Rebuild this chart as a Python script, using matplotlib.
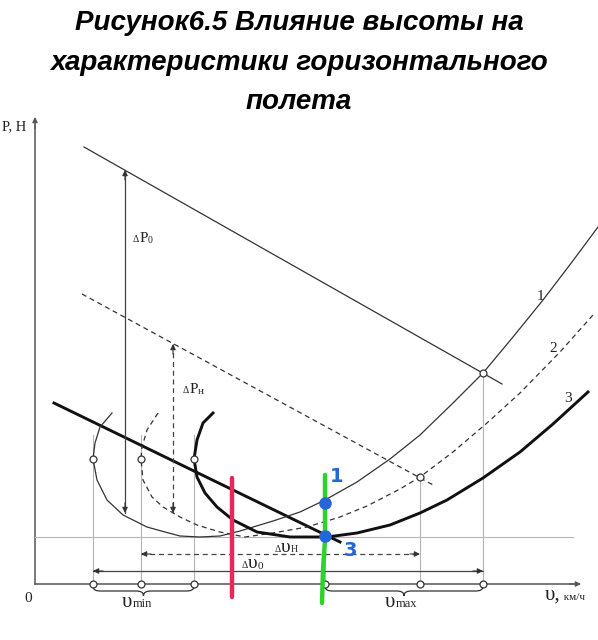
import matplotlib
matplotlib.use("Agg")
import matplotlib.pyplot as plt
from matplotlib.path import Path
from matplotlib.patches import PathPatch
from matplotlib.transforms import offset_copy

SERIF = "Liberation Serif"

# --- curves (v, P in arbitrary schematic units) ---
# 1: required thrust at H = 0 (thin solid)
v1 = [77, 65, 60, 58, 62, 72, 88, 112, 130, 145, 165, 185, 205, 238, 265,
      290, 322, 355, 385, 418, 448, 478, 508, 537, 563]
p1 = [171, 157, 141, 125, 104, 84, 69, 57, 52, 48, 47, 48, 53, 63, 72,
      84, 102, 125, 149, 181, 211, 247, 284, 322, 357]
# 2: required thrust at H (dashed)
v2 = [123, 112, 107, 106, 108, 117, 128, 145, 162, 185, 210, 238, 272, 305,
      332, 365, 385, 418, 452, 485, 525, 558]
p2 = [171, 154, 137, 125, 104, 87, 77, 67, 59, 52, 47, 51, 57, 67,
      78, 95, 107, 132, 161, 191, 232, 269]
# 3: required thrust at higher H (thick)
v3 = [178, 168, 162, 159, 162, 170, 182, 198, 222, 255, 292, 322, 355, 385,
      412, 448, 485, 518, 553]
p3 = [171, 161, 144, 125, 107, 91, 77, 64, 52, 47, 47, 51, 59, 71,
      84, 106, 132, 160, 192]

# available thrust lines (start, end)
line1_v, line1_p = [49, 467], [437, 200]
line2_v, line2_p = [47, 400], [290, 98]
line3_v, line3_p = [19, 305], [181, 42]

p_min = 47
v_min = [58, 106, 159]
p_vmin = 125
v_max = [290, 385, 448]
p_vmax = [48, 107, 211]

dP0_v, dP0_p = 90, [414, 71]
dPH_v, dPH_p = 138, [240, 71]
dvH_p, dvH_v = 30, [106, 385]
dv0_p, dv0_v = 13, [58, 448]

# hand-drawn marks on top of the figure
red_v, red_p = [197, 197], [106, -13]
green_v, green_p = [290, 290, 288, 287], [109, 44, 14, -19]
blue_v, blue_p = [290, 290], [81, 48]

fig = plt.figure(figsize=(5.98, 6.4), dpi=100)
ax = fig.add_axes([0, 0, 1, 1])
ax.set_xlim(-35, 563)
ax.set_ylim(-56, 584)
ax.axis("off")

thin = dict(color="#333333", lw=0.9)
thick = dict(color="#111111", lw=2.1)
guide = dict(color="#b5b5b5", lw=0.8)
dash = (0, (4, 3))


def head(tip, frm, color="#333333"):
    ax.annotate("", xy=tip, xytext=frm,
                arrowprops=dict(arrowstyle="-|>", color=color, lw=0.8,
                                mutation_scale=8, shrinkA=0, shrinkB=0))


def rich(x, y, parts):
    r = fig.canvas.get_renderer()
    dx = 0.0
    for s, size, dy in parts:
        tr = offset_copy(ax.transData, fig=fig, x=dx, y=dy, units="points")
        t = ax.text(x, y, s, fontsize=size, family=SERIF, transform=tr,
                    ha="left", va="baseline", color="#222222")
        dx += t.get_window_extent(r).width * 72 / fig.dpi


def brace(a, b, top=-2, mid_d=-7, tip=-12):
    m = (a + b) / 2
    verts = [(a, top), (a, top - 4), (a + 3, mid_d), (a + 8, mid_d),
             (m - 8, mid_d),
             (m - 3, mid_d), (m, mid_d - 1), (m, tip),
             (m, mid_d - 1), (m + 3, mid_d), (m + 8, mid_d),
             (b - 8, mid_d),
             (b - 3, mid_d), (b, top - 4), (b, top)]
    codes = [Path.MOVETO, Path.CURVE4, Path.CURVE4, Path.CURVE4,
             Path.LINETO,
             Path.CURVE4, Path.CURVE4, Path.CURVE4,
             Path.CURVE4, Path.CURVE4, Path.CURVE4,
             Path.LINETO,
             Path.CURVE4, Path.CURVE4, Path.CURVE4]
    ax.add_patch(PathPatch(Path(verts, codes), fill=False, lw=0.9,
                           edgecolor="#333333"))


# axes
ax.plot([0, 0], [0, 460], color="#555555", lw=1.1)
ax.plot([0, 540], [0, 0], color="#555555", lw=1.1)
head((0, 467), (0, 455), "#555555")
head((546, 0), (534, 0), "#555555")

# guides
ax.plot([0, 538], [p_min, p_min], **guide)
for v in v_min:
    ax.plot([v, v], [0, 149], **guide)
for v, p in zip(v_max, p_vmax):
    ax.plot([v, v], [0, p], **guide)

# thrust lines
ax.plot(line1_v, line1_p, **thin)
ax.plot(line2_v, line2_p, linestyle=dash, **thin)
ax.plot(line3_v, line3_p, **thick)

# curves
ax.plot(v1, p1, **thin)
ax.plot(v2, p2, linestyle=dash, **thin)
ax.plot(v3, p3, **thick)

# delta arrows
ax.plot([dP0_v, dP0_v], dP0_p, color="#444444", lw=0.9)
head((dP0_v, dP0_p[0]), (dP0_v, dP0_p[0] - 10))
head((dP0_v, dP0_p[1]), (dP0_v, dP0_p[1] + 10))
ax.plot([dPH_v, dPH_v], dPH_p, color="#444444", lw=0.9, linestyle=dash)
head((dPH_v, dPH_p[0]), (dPH_v, dPH_p[0] - 10))
head((dPH_v, dPH_p[1]), (dPH_v, dPH_p[1] + 10))
ax.plot(dvH_v, [dvH_p, dvH_p], color="#444444", lw=0.9, linestyle=dash)
head((dvH_v[0], dvH_p), (dvH_v[0] + 10, dvH_p))
head((dvH_v[1], dvH_p), (dvH_v[1] - 10, dvH_p))
ax.plot(dv0_v, [dv0_p, dv0_p], color="#444444", lw=0.9)
head((dv0_v[0], dv0_p), (dv0_v[0] + 10, dv0_p))
head((dv0_v[1], dv0_p), (dv0_v[1] - 10, dv0_p))

# markers
mk = dict(marker="o", ms=5, mfc="white", mec="#333333", mew=0.9,
          linestyle="none", zorder=5)
ax.plot(v_min, [p_vmin] * 3, **mk)
ax.plot(v_max[1:], p_vmax[1:], **mk)
ax.plot(v_min + v_max, [0] * 6, **mk)

brace(v_min[0], v_min[2])
brace(v_max[0], v_max[2])

# labels
ax.text(-33, 454, "P, Н", fontsize=10.5, family=SERIF, ha="left",
        va="baseline", color="#222222")
ax.text(-7, -15, "0", fontsize=11, family=SERIF, ha="center", va="center",
        color="#222222")
for s, v, p in [("1", 505, 288), ("2", 518, 235), ("3", 533, 186)]:
    ax.text(v, p, s, fontsize=11, family=SERIF, ha="center", va="center",
            color="#222222")
rich(98, 342, [("Δ", 7, 0), ("P", 11, 0), ("0", 7, -1)])
rich(148, 191, [("Δ", 7, 0), ("P", 11, 0), ("н", 8, -1)])
rich(240, 32, [("Δ", 7, 0), ("υ", 14, 0), ("Н", 7, 0)])
rich(207, 16, [("Δ", 7, 0), ("υ", 14, 0), ("0", 8, -1)])
rich(87, -23, [("υ", 15, 0), ("min", 9, 0)])
rich(350, -23, [("υ", 15, 0), ("max", 9, 0)])
rich(510, -16, [("υ,", 15, 0), (" км/ч", 8, 0)])

# hand-drawn marks
ax.plot(red_v, red_p, color="#e8285c", lw=3.2, solid_capstyle="round",
        zorder=6)
ax.plot(green_v, green_p, color="#2ed12e", lw=3.2, solid_capstyle="round",
        zorder=6)
ax.plot(blue_v, blue_p, marker="o", ms=8, color="#2566d8", linestyle="none",
        zorder=7)
ax.text(302, 108, "1", fontsize=14, fontweight="bold", color="#2566d8",
        ha="center", va="center", zorder=7)
ax.text(315, 33, "3", fontsize=14, fontweight="bold", color="#2566d8",
        ha="center", va="center", zorder=7)

# title
title = ["Рисунок6.5 Влияние высоты на",
         "характеристики горизонтального",
         "полета"]
for i, line in enumerate(title):
    fig.text(0.5, 1 - (23 + 39.5 * i) / 640, line, fontsize=20,
             family="Liberation Sans", fontweight="bold", fontstyle="italic",
             ha="center", va="center", color="black")

fig.savefig("out.png", dpi=100)
